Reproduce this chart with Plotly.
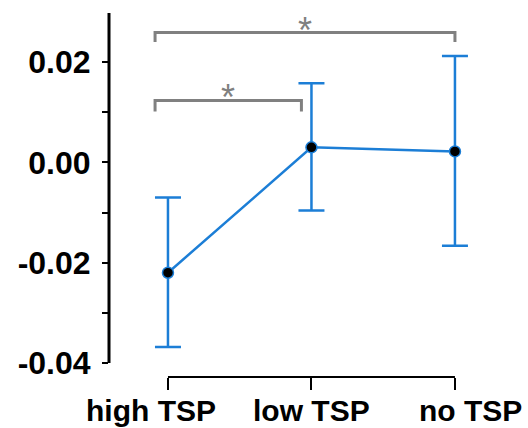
import plotly.graph_objects as go

categories = ["high TSP", "low TSP", "no TSP"]
means = [-0.022, 0.003, 0.0022]
err_upper = [-0.007, 0.0158, 0.0212]
err_lower = [-0.0368, -0.0096, -0.0166]
y_tick_vals = [-0.04, -0.03, -0.02, -0.01, 0.0, 0.01, 0.02]
y_tick_text = ["-0.04", "", "-0.02", "", "0.00", "", "0.02"]
# significance comparisons: (from index, to index, bar height, tip height)
comparisons = [(0, 2, 0.0259, 0.0240), (0, 1, 0.01236, 0.01017)]

BLUE = "#1c7ed6"
GREY = "#808080"

x = list(range(len(categories)))
fig = go.Figure()

fig.add_trace(go.Scatter(
    x=x, y=means, mode="lines+markers",
    line=dict(color=BLUE, width=2.5),
    marker=dict(color="black", size=11, line=dict(color=BLUE, width=1.5)),
    error_y=dict(type="data", symmetric=False,
                 array=[u - m for u, m in zip(err_upper, means)],
                 arrayminus=[m - l for l, m in zip(err_lower, means)],
                 color=BLUE, thickness=2.5, width=13),
    showlegend=False, hoverinfo="skip"))

annotations = []
for i0, i1, h, tip in comparisons:
    xa = i0 - 0.09
    xb = i1 - (0.07 if i1 < len(categories) - 1 else 0.0)
    fig.add_trace(go.Scatter(
        x=[xa, xa, xb, xb], y=[tip, h, h, tip], mode="lines",
        line=dict(color=GREY, width=3), showlegend=False, hoverinfo="skip"))
    annotations.append(dict(x=(xa + xb) / 2, y=h, xref="x", yref="y",
                            text="*", showarrow=False, yanchor="bottom",
                            yshift=-20,
                            font=dict(family="Liberation Sans", size=36, color=GREY)))

xshifts = [-17, 0, 16]
for i, c in enumerate(categories):
    annotations.append(dict(x=i, y=0, xref="x", yref="paper", text="<b>%s</b>" % c,
                            showarrow=False, yanchor="top", yshift=-15, xshift=xshifts[i],
                            font=dict(family="Liberation Sans", size=30, color="black")))

shapes = [
    dict(type="line", xref="x", yref="paper", x0=0, x1=len(categories) - 1, y0=0, y1=0,
         line=dict(color="black", width=2)),
    dict(type="line", xref="paper", yref="y", x0=0, x1=0, y0=y_tick_vals[0], y1=0.0298,
         line=dict(color="black", width=3)),
]

fig.update_layout(
    width=528, height=428,
    margin=dict(l=109, r=28, t=13, b=51),
    paper_bgcolor="white", plot_bgcolor="white",
    annotations=annotations, shapes=shapes,
    xaxis=dict(range=[-0.411, 2.314], tickvals=x, showticklabels=False,
               ticks="outside", ticklen=12, tickwidth=2, tickcolor="black",
               showgrid=False, zeroline=False, showline=False),
    yaxis=dict(range=[-0.0428, 0.0298], tickvals=y_tick_vals, ticktext=y_tick_text,
               ticks="outside", ticklen=6, tickwidth=2, tickcolor="black",
               ticklabelstandoff=5,
               tickfont=dict(family="Liberation Sans", size=32, color="black", weight="bold"),
               showgrid=False, zeroline=False, showline=False),
)

fig.write_html("out.html", config={"displayModeBar": False},
               post_script="document.body.style.margin='0px';")
